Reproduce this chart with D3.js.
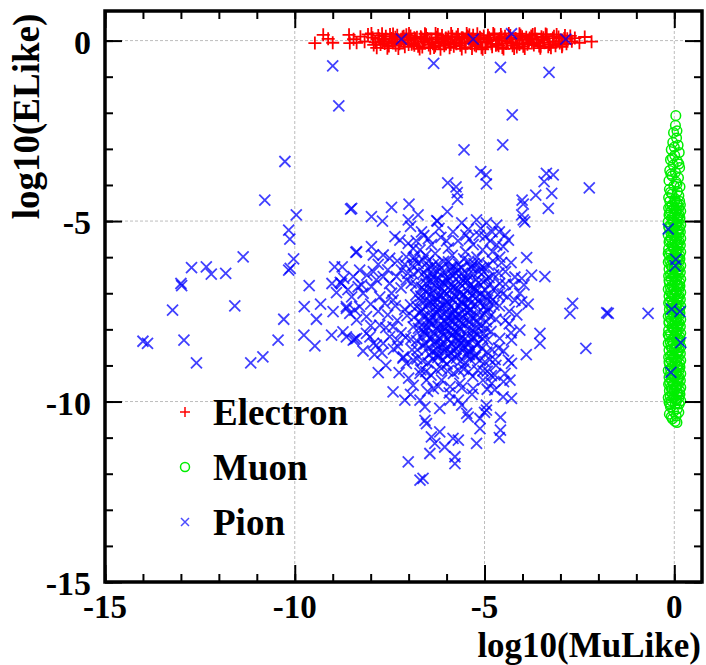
<!DOCTYPE html>
<html>
<head>
<meta charset="utf-8">
<script src="https://cdn.jsdelivr.net/npm/d3@7"></script>
<style>
  body { margin: 0; background: #fff; }
  svg text { font-family: "Liberation Serif", "Times New Roman", serif; font-weight: bold; fill: #000; }
</style>
</head>
<body>
<svg id="chart" width="706" height="665"></svg>
<script>
// ---- data: [log10(MuLike), log10(ELike)] ----
const electronPts = [
  [-9.47,-0.07],[-9.25,0.16],[-9.0,-0.06],[-9.12,0.05],[-8.57,0.16],[-8.55,-0.07],[-8.37,-0.06],[-8.27,0.11],[-8.07,0.17],[-8.16,-0.03],[-8.45,0.04],
  [-2.62,0.07],[-2.36,0.1],[-2.18,-0.03],[-2.5,-0.06],[-2.74,0.13],[-2.95,-0.12],
  [-7.95,0.08],[-7.88,-0.05],[-7.8,0.14],[-7.74,-0.11],[-7.66,0.03],[-7.6,0.12],[-7.52,-0.15],[-7.45,0.06],[-7.38,-0.02],[-7.3,0.15],
  [-7.24,-0.09],[-7.16,0.1],[-7.1,-0.17],[-7.02,0.01],[-6.95,0.13],[-6.88,-0.07],[-6.82,0.05],[-6.75,-0.16],[-6.68,0.11],[-6.6,-0.03],
  [-6.54,0.16],[-6.47,-0.12],[-6.4,0.04],[-6.33,-0.19],[-6.26,0.09],[-6.2,-0.06],[-6.12,0.14],[-6.06,-0.14],[-5.98,0.02],[-5.92,-0.2],
  [-5.85,0.12],[-5.78,-0.04],[-5.7,0.17],[-5.64,-0.13],[-5.57,0.07],[-5.5,-0.18],[-5.43,0.1],[-5.36,-0.08],[-5.3,0.15],[-5.22,-0.15],
  [-5.16,0.03],[-5.08,-0.2],[-5.02,0.13],[-4.95,-0.05],[-4.88,0.08],[-4.8,-0.17],[-4.74,0.16],[-4.67,-0.1],[-4.6,0.05],[-4.53,-0.19],
  [-4.46,0.12],[-4.4,-0.02],[-4.32,0.14],[-4.26,-0.14],[-4.18,0.06],[-4.12,-0.07],[-4.05,0.15],[-3.98,-0.16],[-3.9,0.09],[-3.84,-0.04],
  [-3.77,0.13],[-3.7,-0.12],[-3.63,0.04],[-3.56,-0.15],[-3.5,0.11],[-3.42,-0.06],[-3.36,0.16],[-3.28,-0.11],[-3.2,0.07],[-3.13,-0.14],
  [-3.05,0.1],[-2.98,-0.03],[-2.9,0.06],[-2.84,-0.09],
  [-7.92,-0.12],[-7.77,0.05],[-7.63,-0.08],[-7.49,0.17],[-7.34,-0.13],[-7.2,0.04],[-7.06,0.16],[-6.92,-0.1],[-6.78,0.09],[-6.64,-0.18],
  [-6.5,0.06],[-6.36,-0.09],[-6.23,0.17],[-6.09,-0.02],[-5.95,0.1],[-5.81,-0.16],[-5.67,0.04],[-5.53,-0.07],[-5.4,0.16],[-5.26,-0.12],
  [-5.12,0.09],[-4.98,-0.19],[-4.84,0.02],[-4.7,-0.13],[-4.57,0.17],[-4.43,-0.08],[-4.29,0.03],[-4.15,-0.18],[-4.01,0.11],[-3.87,-0.1],
  [-3.73,0.17],[-3.59,-0.05],[-3.46,0.02],[-3.32,-0.17],[-3.17,0.12],[-3.02,-0.07],[-2.88,0.14],
  [-7.42,-0.04],[-7.13,0.12],[-6.85,-0.13],[-6.57,0.02],[-6.3,-0.15],[-6.02,0.07],[-5.74,-0.09],[-5.46,0.13],[-5.19,-0.05],[-4.91,0.15],
  [-4.63,-0.14],[-4.35,0.08],[-4.08,-0.11],[-3.8,0.03],[-3.52,-0.16],
  [-7.98,0.2],[-7.84,-0.2],[-7.7,0.19],[-7.56,-0.21],[-7.41,0.18],[-7.27,-0.22],[-7.13,-0.04],[-6.99,0.2],[-6.85,0.08],[-6.71,-0.23],
  [-6.57,0.19],[-6.43,-0.21],[-6.29,0.2],[-6.16,-0.24],[-6.02,-0.09],[-5.88,0.2],[-5.74,0.1],[-5.6,-0.23],[-5.47,0.2],[-5.33,-0.22],
  [-5.19,0.19],[-5.05,-0.24],[-4.91,-0.02],[-4.77,0.2],[-4.64,0.01],[-4.5,-0.23],[-4.36,0.2],[-4.22,-0.22],[-4.08,0.19],[-3.94,-0.22],
  [-3.81,0.07],[-3.67,0.19],[-3.53,-0.21],[-3.39,0.18],[-3.25,-0.2],[-3.1,0.17],[-2.96,-0.17],[-2.82,0.05],[-2.7,-0.02],
  [-7.7,-0.02],[-7.35,0.09],[-7.0,-0.11],[-6.66,0.07],[-6.45,-0.05],[-6.14,0.03],[-5.89,-0.11],[-5.6,0.08],[-5.35,-0.02],[-5.1,0.06],
  [-4.82,-0.09],[-4.55,0.1],[-4.3,-0.04],[-4.0,0.02],[-3.75,-0.07],[-3.45,0.08],[-3.2,-0.03]
];

const muonPts = [
  [0.04,-2.08],[0.03,-2.35],[-0.02,-2.55],[0.06,-2.7],[-0.04,-2.82],[0.1,-2.9],[-0.08,-3.02],[0.13,-3.1],[0.01,-3.18],[-0.1,-3.3],
  [0.08,-3.35],[-0.03,-3.45],[0.14,-3.52],[-0.12,-3.6],[0.03,-3.65],[-0.06,-3.75],[0.11,-3.8],[-0.14,-3.88],[0.05,-3.92],[-0.01,-4.02],
  [0.15,-4.05],[-0.13,-4.12],[0.08,-4.18],[-0.06,-4.25],[0.12,-4.3],[-0.15,-4.35],[0.02,-4.38],
  [0.07,-2.5],[0.0,-2.95],[-0.05,-3.25],[0.12,-3.42],[-0.09,-3.7],[0.07,-3.98],[-0.1,-4.2],
  [-0.12,-4.45],[0.02,-4.45],[0.14,-4.45],[-0.06,-4.55],[0.09,-4.55],[0.16,-4.55],[-0.15,-4.64],[-0.01,-4.64],[0.12,-4.64],
  [-0.09,-4.73],[0.05,-4.73],[0.17,-4.73],[-0.14,-4.83],[0.01,-4.83],[0.13,-4.83],[-0.07,-4.92],[0.08,-4.92],[0.15,-4.92],
  [-0.16,-5.02],[-0.03,-5.02],[0.11,-5.02],[-0.1,-5.11],[0.04,-5.11],[0.17,-5.11],[-0.13,-5.2],[0.0,-5.2],[0.14,-5.2],
  [-0.05,-5.3],[0.09,-5.3],[0.16,-5.3],[-0.16,-5.39],[-0.02,-5.39],[0.12,-5.39],[-0.08,-5.48],[0.06,-5.48],[0.17,-5.48],
  [-0.14,-5.58],[0.02,-5.58],[0.13,-5.58],[-0.06,-5.67],[0.08,-5.67],[0.16,-5.67],[-0.15,-5.77],[-0.01,-5.77],[0.11,-5.77],
  [-0.1,-5.86],[0.05,-5.86],[0.17,-5.86],[-0.13,-5.95],[0.01,-5.95],[0.14,-5.95],[-0.07,-6.05],[0.09,-6.05],[0.15,-6.05],
  [-0.16,-6.14],[-0.03,-6.14],[0.12,-6.14],[-0.09,-6.23],[0.04,-6.23],[0.17,-6.23],[-0.14,-6.33],[0.0,-6.33],[0.13,-6.33],
  [-0.05,-6.42],[0.08,-6.42],[0.16,-6.42],[-0.15,-6.52],[-0.02,-6.52],[0.11,-6.52],[-0.08,-6.61],[0.06,-6.61],[0.17,-6.61],
  [-0.13,-6.7],[0.02,-6.7],[0.14,-6.7],[-0.06,-6.8],[0.1,-6.8],[0.15,-6.8],[-0.16,-6.89],[-0.01,-6.89],[0.12,-6.89],
  [-0.1,-6.98],[0.05,-6.98],[0.17,-6.98],[-0.14,-7.08],[0.01,-7.08],[0.13,-7.08],[-0.07,-7.17],[0.08,-7.17],[0.16,-7.17],
  [-0.15,-7.27],[-0.03,-7.27],[0.11,-7.27],[-0.09,-7.36],[0.04,-7.36],[0.17,-7.36],[-0.13,-7.45],[0.0,-7.45],[0.14,-7.45],
  [-0.05,-7.55],[0.09,-7.55],[0.15,-7.55],[-0.16,-7.64],[-0.02,-7.64],[0.12,-7.64],[-0.08,-7.73],[0.06,-7.73],[0.17,-7.73],
  [-0.14,-7.83],[0.02,-7.83],[0.13,-7.83],[-0.06,-7.92],[0.08,-7.92],[0.16,-7.92],[-0.15,-8.02],[-0.01,-8.02],[0.11,-8.02],
  [-0.1,-8.11],[0.05,-8.11],[0.17,-8.11],[-0.13,-8.2],[0.01,-8.2],[0.14,-8.2],[-0.07,-8.3],[0.09,-8.3],[0.15,-8.3],
  [-0.16,-8.39],[-0.03,-8.39],[0.12,-8.39],[-0.09,-8.48],[0.04,-8.48],[0.17,-8.48],[-0.14,-8.58],[0.0,-8.58],[0.13,-8.58],
  [-0.05,-8.67],[0.08,-8.67],[0.16,-8.67],[-0.15,-8.77],[-0.02,-8.77],[0.11,-8.77],[-0.08,-8.86],[0.06,-8.86],[0.17,-8.86],
  [-0.13,-8.95],[0.02,-8.95],[0.14,-8.95],[-0.06,-9.05],[0.1,-9.05],[0.15,-9.05],[-0.16,-9.14],[-0.01,-9.14],[0.12,-9.14],
  [-0.1,-9.23],[0.05,-9.23],[0.17,-9.23],[-0.14,-9.33],[0.01,-9.33],[0.13,-9.33],[-0.07,-9.42],[0.08,-9.42],[0.16,-9.42],
  [-0.15,-9.52],[-0.03,-9.52],[0.11,-9.52],[-0.09,-9.61],[0.04,-9.61],[0.17,-9.61],[-0.13,-9.7],[0.0,-9.7],[0.14,-9.7],
  [-0.05,-9.8],[0.09,-9.8],[0.15,-9.8],[-0.16,-9.89],[-0.02,-9.89],[0.12,-9.89],[-0.08,-9.98],[0.06,-9.98],[0.17,-9.98],
  [-0.12,-10.07],[0.03,-10.07],[0.13,-10.07],
  [0.07,-4.5],[-0.1,-4.6],[0.04,-4.69],[-0.12,-4.78],[0.1,-4.88],[-0.04,-4.97],[0.07,-5.06],[-0.15,-5.16],[0.11,-5.25],[-0.09,-5.34],
  [0.03,-5.44],[-0.12,-5.53],[0.09,-5.62],[-0.03,-5.72],[0.06,-5.81],[-0.16,-5.9],[0.1,-6.0],[-0.12,-6.09],[0.05,-6.19],[-0.06,-6.28],
  [0.09,-6.37],[-0.1,-6.47],[0.03,-6.56],[-0.14,-6.65],[0.08,-6.75],[-0.1,-6.84],[0.05,-6.94],[-0.05,-7.03],[0.1,-7.12],[-0.12,-7.22],
  [0.06,-7.31],[-0.06,-7.41],[0.08,-7.5],[-0.11,-7.59],[0.04,-7.69],[-0.14,-7.78],[0.09,-7.87],[-0.04,-7.97],[0.06,-8.06],[-0.16,-8.15],
  [0.1,-8.25],[-0.11,-8.34],[0.05,-8.44],[-0.06,-8.53],[0.09,-8.62],[-0.1,-8.72],[0.03,-8.81],[-0.14,-8.9],[0.08,-9.0],[-0.1,-9.09],
  [0.05,-9.19],[-0.05,-9.28],[0.1,-9.37],[-0.12,-9.47],[0.06,-9.56],[-0.06,-9.66],[0.08,-9.75],[-0.11,-9.84],[0.04,-9.94],[-0.14,-10.02],
  [-0.1,-10.15],[0.08,-10.2],[-0.02,-10.28],[0.12,-10.3],[-0.13,-10.35],[0.05,-10.4],[-0.08,-10.42],[-0.05,-10.48],[0.02,-10.55],[0.07,-10.58]
];

const pionPts = [
  // far left / scattered
  [-10.26,-3.35],[-10.79,-4.42],[-9.96,-4.83],[-8.53,-4.67],[-10.16,-5.25],[-10.13,-5.5],[-10.03,-6.05],[-10.16,-6.36],[-10.12,-6.31],
  [-11.36,-5.99],[-12.72,-6.29],[-12.33,-6.27],[-12.2,-6.47],[-11.82,-6.45],[-13.0,-6.73],[-12.98,-6.79],[-13.22,-7.47],[-11.58,-7.35],
  [-14.0,-8.33],[-13.88,-8.39],[-12.92,-8.3],[-12.59,-8.93],[-11.16,-8.93],[-10.84,-8.76],[-10.44,-8.3],[-10.29,-7.72],[-9.62,-6.79],
  [-9.75,-7.37],[-9.32,-7.3],[-9.43,-7.72],[-9.76,-8.16],[-9.47,-8.46],[-9.02,-6.73],[-8.95,-6.27],[-8.75,-6.27],[-8.71,-6.59],
  [-8.9,-6.98],[-8.99,-7.51],[-8.64,-7.42],[-8.42,-7.47],[-9.03,-8.16],[-8.73,-8.07],[-8.42,-8.27],[-8.39,-5.87],[-8.8,-6.7],
  [-8.33,-6.82],[-8.77,-6.73],
  // near the electron band
  [-9.0,-0.7],[-8.84,-1.81],[-7.19,0.04],[-5.3,0.04],[-4.29,0.19],[-2.86,0.04],[-6.34,-0.63],[-4.58,-0.74],[-3.3,-0.88],
  // upper middle
  [-4.27,-2.06],[-4.52,-2.89],[-5.54,-3.03],[-5.1,-3.63],[-4.96,-3.72],[-4.95,-3.97],[-5.97,-3.94],[-5.75,-4.05],[-5.72,-4.21],
  [-5.71,-4.4],[-3.37,-3.68],[-3.19,-3.72],[-3.43,-3.91],[-3.65,-4.28],[-3.23,-4.23],[-3.32,-4.65],[-2.24,-4.08],[-4.01,-4.42],
  [-3.98,-4.53],[-5.98,-4.74],[-6.24,-5.0],[-6.99,-4.53],[-7.45,-4.62],[-7.98,-4.88],[-7.69,-5.0],[-8.5,-4.65],[-3.98,-4.97],
  [-6.75,-4.83],[-7.01,-4.97],[-6.26,-4.99],[-4.02,-4.83],[-3.94,-5.02],[-5.83,-5.3],[-5.43,-5.23],[-5.49,-5.39],[-5.21,-4.97],
  [-5.14,-5.39],[-4.95,-5.05],[-4.99,-5.43],[-4.68,-5.11],[-4.61,-5.3],[-4.46,-5.39],[-4.37,-5.53],[-4.51,-5.71],[-4.68,-5.66],
  [-4.79,-5.85],[-3.89,-6.01],[-3.76,-6.5],[-4.02,-6.59],[-3.96,-6.77],[-3.41,-6.54],[-4.24,-6.77],[-4.07,-7.0],[-4.02,-7.24],
  [-3.54,-8.11],[-3.54,-8.39],[-4.07,-8.02],[-4.29,-8.3],[-4.15,-7.6],[-3.85,-7.3],[-4.35,-7.85],[-4.5,-8.6],[-3.9,-8.7],
  // near the muon column
  [-0.16,-5.22],[0.04,-6.06],[0.02,-6.24],[-2.68,-7.28],[-2.75,-7.56],[-1.78,-7.54],[-1.74,-7.56],[-0.69,-7.56],[-0.07,-7.44],
  [0.15,-7.51],[0.17,-8.37],[-0.09,-9.19],[-2.33,-8.53],
  // left wing of the cluster
  [-8.37,-5.85],[-7.98,-5.71],[-7.93,-5.94],[-7.67,-5.94],[-7.5,-6.03],[-7.36,-5.43],[-7.23,-5.53],[-7.01,-5.62],[-6.88,-5.76],
  [-6.7,-5.8],[-7.06,-5.99],[-6.84,-6.08],[-6.66,-5.3],[-6.48,-5.49],[-8.46,-6.54],[-8.29,-6.36],[-8.24,-6.77],[-7.93,-6.4],
  [-7.85,-6.63],[-7.98,-6.82],[-7.67,-6.54],[-7.5,-6.73],[-7.32,-6.54],[-7.19,-6.36],[-7.06,-6.63],[-7.76,-7.1],[-7.63,-7.28],
  [-7.41,-7.19],[-8.64,-7.37],[-8.55,-7.56],[-8.29,-7.37],[-8.37,-7.74],[-8.11,-7.65],[-8.64,-8.21],[-8.37,-8.25],[-8.11,-8.11],
  [-7.93,-8.39],[-7.67,-8.39],[-7.76,-7.88],[-7.41,-7.93],[-7.8,-7.5],[-7.55,-7.6],[-7.3,-7.75],[-7.2,-8.1],[-7.5,-8.2],
  [-7.9,-8.7],[-7.4,-8.55],[-7.15,-8.8],[-7.6,-9.0],[-8.46,-8.3],[-8.02,-8.21],[-7.85,-8.44],[-7.28,-8.48],[-7.14,-8.76],
  [-7.06,-8.94],[-6.88,-8.85],
  [-7.3,-6.1],[-7.55,-6.35],[-7.2,-6.85],[-7.45,-7.0],[-7.1,-7.45],[-7.35,-7.35],[-7.6,-7.95],[-7.3,-8.3],[-8.0,-7.3],[-8.2,-7.0],
  [-8.5,-7.1],[-8.0,-7.9],[-7.7,-8.65],[-7.25,-9.2],[-7.0,-9.35],[-6.95,-9.8],[-7.8,-6.2],[-8.1,-6.5],[-8.6,-6.9],[-8.2,-8.6],
  [-7.8,-9.2],[-6.85,-6.0],[-7.1,-6.2],
  // lower tail
  [-6.7,-9.22],[-6.53,-9.41],[-6.35,-9.64],[-6.13,-9.41],[-5.91,-9.59],[-5.65,-9.5],[-5.3,-9.64],[-5.04,-9.41],[-4.73,-9.27],
  [-7.41,-9.73],[-7.1,-9.96],[-6.7,-9.96],[-6.57,-10.15],[-6.18,-10.19],[-5.91,-9.96],[-5.69,-9.96],[-5.47,-10.33],[-5.43,-10.43],
  [-5.12,-10.47],[-5.12,-10.75],[-4.95,-10.1],[-4.95,-10.24],[-4.58,-10.44],[-4.58,-10.79],[-4.61,-11.0],[-5.21,-11.16],
  [-6.57,-10.52],[-6.53,-10.61],[-6.4,-10.98],[-6.18,-10.84],[-6.31,-11.16],[-6.05,-11.26],[-5.83,-11.02],[-5.69,-11.07],
  [-6.44,-11.44],[-5.78,-11.53],[-5.78,-11.72],[-7.01,-11.67],[-6.7,-12.18],[-6.62,-12.13],[-4.81,-9.5],[-4.73,-9.68],
  [-4.51,-9.87],[-4.29,-9.91],[-4.46,-9.22],[-4.33,-9.41],[-4.29,-8.94],[-4.37,-8.85],[-5.0,-10.3],[-5.6,-10.1],
  // right side of the cluster
  [-4.4,-7.1],[-4.2,-6.55],[-4.55,-6.15],[-4.3,-8.1],[-4.6,-8.25],[-4.45,-7.75],[-4.7,-9.0],[-4.5,-9.45],
  // dense core
  [-6.62,-6.08],[-6.35,-6.21],[-6.08,-6.12],[-5.82,-6.26],[-5.55,-6.05],[-5.28,-6.18],[-5.02,-6.29],[-4.78,-6.1],[-6.9,-6.24],
  [-7.02,-6.45],[-6.74,-6.38],[-6.51,-6.52],[-6.24,-6.41],[-5.96,-6.55],[-5.71,-6.36],[-5.44,-6.49],[-5.15,-6.4],[-4.88,-6.57],[-4.62,-6.44],
  [-6.93,-6.72],[-6.66,-6.84],[-6.42,-6.68],[-6.19,-6.8],[-5.98,-6.66],[-5.76,-6.88],[-5.52,-6.71],[-5.29,-6.83],[-5.03,-6.69],[-4.74,-6.86],[-4.45,-6.75],
  [-6.81,-7.05],[-6.55,-6.95],[-6.31,-7.12],[-6.1,-6.98],[-5.88,-7.15],[-5.66,-7.01],[-5.45,-7.18],[-5.21,-6.94],[-4.98,-7.08],[-4.79,-7.19],[-4.52,-7.02],
  [-6.95,-7.32],[-6.63,-7.44],[-6.4,-7.27],[-6.18,-7.41],[-5.97,-7.24],[-5.79,-7.47],[-5.58,-7.3],[-5.36,-7.45],[-5.12,-7.28],[-4.9,-7.4],[-4.61,-7.35],
  [-7.04,-7.62],[-6.72,-7.55],[-6.49,-7.71],[-6.27,-7.58],[-6.06,-7.76],[-5.85,-7.6],[-5.68,-7.74],[-5.47,-7.53],[-5.26,-7.69],[-5.01,-7.57],[-4.7,-7.72],
  [-6.88,-7.93],[-6.6,-8.05],[-6.38,-7.86],[-6.16,-8.01],[-5.95,-7.9],[-5.77,-8.07],[-5.56,-7.84],[-5.32,-8.02],[-5.09,-7.91],[-4.83,-8.06],
  [-7.08,-8.22],[-6.79,-8.31],[-6.52,-8.16],[-6.29,-8.35],[-6.07,-8.19],[-5.88,-8.38],[-5.63,-8.24],[-5.41,-8.36],[-5.18,-8.15],[-4.92,-8.29],
  [-6.91,-8.57],[-6.63,-8.45],[-6.37,-8.62],[-6.12,-8.5],[-5.9,-8.66],[-5.69,-8.48],[-5.43,-8.6],[-5.2,-8.44],[-4.94,-8.63],[-4.63,-8.52],
  [-6.78,-8.82],[-6.49,-8.93],[-6.23,-8.78],[-5.99,-8.96],[-5.74,-8.8],[-5.51,-8.92],[-5.24,-8.77],[-4.99,-8.9],[-4.72,-8.84],
  [-6.68,-9.12],[-6.41,-9.27],[-6.14,-9.08],[-5.82,-9.22],[-5.55,-9.1],[-5.31,-9.3],[-5.04,-9.15],[-4.82,-9.28],
  [-6.88,-9.55],[-6.5,-9.72],[-6.22,-9.58],[-5.93,-9.76],[-5.6,-9.62],[-5.33,-9.8],[-4.93,-9.66],
  [-6.5,-6.3],[-6.2,-6.6],[-5.9,-6.35],[-5.6,-6.6],[-5.35,-6.3],[-6.45,-6.9],[-6.15,-7.05],[-5.85,-6.85],[-5.55,-7.05],[-5.3,-6.9],
  [-6.55,-7.2],[-6.28,-7.5],[-6.0,-7.35],[-5.7,-7.6],[-5.45,-7.35],[-6.45,-7.75],[-6.2,-7.9],[-5.9,-7.75],[-5.65,-8.0],[-5.4,-7.8],
  [-6.4,-8.2],[-6.15,-8.4],[-5.85,-8.15],[-5.55,-8.45],[-5.3,-8.2],[-6.05,-8.65],[-5.75,-8.55],[-6.35,-6.55],[-6.05,-6.75],[-5.75,-6.45],
  [-5.45,-6.65],[-6.3,-7.25],[-5.95,-7.6],[-5.6,-7.25],[-6.0,-8.05],[-5.65,-8.3],[-6.6,-7.95],[-6.25,-8.7],[-5.4,-8.7],[-5.2,-7.1],
  [-6.75,-6.17],[-6.48,-6.11],[-6.22,-6.19],[-5.95,-6.13],[-5.68,-6.2],[-5.42,-6.12],[-5.15,-6.16],[-4.9,-6.22],
  [-6.87,-6.48],[-6.6,-6.43],[-6.37,-6.47],[-6.1,-6.42],[-5.84,-6.5],[-5.58,-6.44],[-5.3,-6.46],[-5.02,-6.41],[-4.76,-6.49],
  [-6.8,-6.77],[-6.54,-6.73],[-6.3,-6.79],[-6.08,-6.72],[-5.87,-6.76],[-5.64,-6.74],[-5.4,-6.78],[-5.16,-6.71],[-4.88,-6.77],[-4.6,-6.73],
  [-6.68,-7.08],[-6.43,-7.03],[-6.2,-7.07],[-5.99,-7.02],[-5.77,-7.09],[-5.56,-7.04],[-5.33,-7.06],[-5.1,-7.01],[-4.87,-7.07],[-4.65,-7.04],
  [-6.78,-7.37],[-6.51,-7.33],[-6.29,-7.38],[-6.08,-7.32],[-5.88,-7.36],[-5.68,-7.34],[-5.47,-7.39],[-5.24,-7.31],[-5.0,-7.36],[-4.75,-7.33],
  [-6.86,-7.67],[-6.6,-7.63],[-6.38,-7.66],[-6.16,-7.62],[-5.96,-7.68],[-5.76,-7.64],[-5.57,-7.66],[-5.36,-7.63],[-5.13,-7.67],[-4.85,-7.64],
  [-6.74,-7.97],[-6.49,-7.93],[-6.27,-7.98],[-6.05,-7.94],[-5.86,-7.96],[-5.66,-7.93],[-5.44,-7.97],[-5.2,-7.94],[-4.96,-7.98],
  [-6.94,-8.27],[-6.65,-8.23],[-6.41,-8.28],[-6.18,-8.24],[-5.97,-8.26],[-5.76,-8.22],[-5.52,-8.27],[-5.3,-8.23],[-5.05,-8.26],
  [-6.77,-8.57],[-6.5,-8.53],[-6.25,-8.56],[-6.01,-8.52],[-5.8,-8.58],[-5.56,-8.54],[-5.32,-8.56],[-5.07,-8.53],[-4.8,-8.57],
  [-6.63,-8.87],[-6.36,-8.83],[-6.1,-8.86],[-5.87,-8.84],[-5.63,-8.88],[-5.38,-8.83],[-5.12,-8.86],[-4.86,-8.84],
  [-6.55,-9.17],[-6.27,-9.13],[-5.97,-9.16],[-5.68,-9.14],[-5.42,-9.18],[-5.18,-9.13],[-4.93,-9.16],
  [-6.42,-6.28],[-6.15,-6.3],[-5.88,-6.27],[-5.62,-6.29],[-5.35,-6.26],[-5.1,-6.3],
  [-6.55,-6.6],[-6.28,-6.62],[-6.02,-6.58],[-5.76,-6.61],[-5.5,-6.59],[-5.22,-6.62],[-4.95,-6.6],
  [-6.6,-6.9],[-6.36,-6.92],[-6.12,-6.88],[-5.9,-6.91],[-5.68,-6.89],[-5.46,-6.92],[-5.24,-6.88],[-4.98,-6.91],
  [-6.7,-7.2],[-6.46,-7.22],[-6.24,-7.18],[-6.03,-7.21],[-5.82,-7.19],[-5.62,-7.22],[-5.4,-7.18],[-5.17,-7.21],[-4.92,-7.19],
  [-6.66,-7.5],[-6.42,-7.52],[-6.2,-7.48],[-5.99,-7.51],[-5.78,-7.49],[-5.58,-7.52],[-5.38,-7.48],[-5.15,-7.51],[-4.93,-7.49],
  [-6.7,-7.8],[-6.46,-7.82],[-6.24,-7.78],[-6.03,-7.81],[-5.83,-7.79],[-5.63,-7.82],[-5.42,-7.78],[-5.2,-7.81],[-4.95,-7.79],
  [-6.58,-8.1],[-6.34,-8.12],[-6.12,-8.08],[-5.91,-8.11],[-5.71,-8.09],[-5.5,-8.12],[-5.27,-8.08],[-5.02,-8.11],
  [-6.55,-8.4],[-6.3,-8.42],[-6.07,-8.38],[-5.86,-8.41],[-5.64,-8.39],[-5.42,-8.42],[-5.18,-8.38],
  [-6.45,-8.7],[-6.2,-8.72],[-5.96,-8.68],[-5.72,-8.71],[-5.48,-8.69],[-5.24,-8.72],
  // top edge of the cluster
  [-6.95,-5.15],[-6.6,-5.4],[-6.4,-5.65],[-6.15,-5.45],[-5.95,-5.75],[-5.7,-5.55],[-5.5,-5.85],[-5.3,-5.65],[-5.05,-5.8],[-4.85,-5.55],
  [-6.3,-5.9],[-5.85,-5.95],[-5.2,-6.0],[-6.55,-5.95],[-4.6,-6.0],[-4.3,-6.15],[-4.45,-6.4],[-4.2,-7.2],[-4.35,-7.5],
  [-6.8,-5.55],[-6.2,-5.2],[-5.6,-5.05],[-5.1,-5.2],[-4.8,-5.3],[-6.0,-5.55],[-5.4,-5.5]
];

const majorTicks = [-15, -10, -5, 0];
const majorLabels = ['-15', '-10', '-5', '0'];
const minorTicks = [-15, -14, -13, -12, -11, -10, -9, -8, -7, -6, -5, -4, -3, -2, -1, 0];
const legendNames = ['Electron', 'Muon', 'Pion'];
const xTitle = 'log10(MuLike)';
const yTitle = 'log10(ELike)';

// ---- layout ----
const plotLeft = 105, plotRight = 702, plotTop = 11, plotBottom = 582;

const x = d3.scaleLinear().domain([-15, 0.73]).range([plotLeft, plotRight]);
const y = d3.scaleLinear().domain([-15, 0.82]).range([plotBottom, plotTop]);

const svg = d3.select('#chart');

// dashed grid at the major ticks
const grid = svg.append('g')
  .attr('stroke', '#bdbdbd')
  .attr('stroke-width', 1)
  .attr('stroke-dasharray', '3,2');

grid.selectAll('.gx')
  .data(majorTicks)
  .enter()
  .append('line')
    .attr('x1', d => x(d)).attr('x2', d => x(d))
    .attr('y1', plotTop).attr('y2', plotBottom);

grid.selectAll('.gy')
  .data(majorTicks)
  .enter()
  .append('line')
    .attr('y1', d => y(d)).attr('y2', d => y(d))
    .attr('x1', plotLeft).attr('x2', plotRight);

// markers
const plusPath = s => `M${-s},0H${s}M0,${-s}V${s}`;
const crossPath = s => `M${-s},${-s}L${s},${s}M${-s},${s}L${s},${-s}`;

svg.append('g')
  .selectAll('path')
  .data(electronPts)
  .enter()
  .append('path')
    .attr('transform', d => `translate(${x(d[0])},${y(d[1])})`)
    .attr('d', plusPath(6.5))
    .attr('fill', 'none')
    .attr('stroke', '#ff0000')
    .attr('stroke-width', 1.8);

svg.append('g')
  .selectAll('circle')
  .data(muonPts)
  .enter()
  .append('circle')
    .attr('cx', d => x(d[0]))
    .attr('cy', d => y(d[1]))
    .attr('r', 4.8)
    .attr('fill', 'none')
    .attr('stroke', '#00ee00')
    .attr('stroke-width', 1.5);

svg.append('g')
  .selectAll('path')
  .data(pionPts)
  .enter()
  .append('path')
    .attr('transform', d => `translate(${x(d[0])},${y(d[1])})`)
    .attr('d', crossPath(5.5))
    .attr('fill', 'none')
    .attr('stroke', '#0000ff')
    .attr('stroke-opacity', 0.75)
    .attr('stroke-width', 1.8);

// ticks on all four sides, pointing inward
const styleAxis = g => {
  g.select('.domain').remove();
  g.selectAll('.tick line').attr('stroke', '#000').attr('stroke-width', 2);
};

const sides = [
  { axis: d3.axisBottom(x), pos: `translate(0,${plotBottom})` },
  { axis: d3.axisTop(x), pos: `translate(0,${plotTop})` },
  { axis: d3.axisLeft(y), pos: `translate(${plotLeft},0)` },
  { axis: d3.axisRight(y), pos: `translate(${plotRight},0)` }
];

sides.forEach(s => {
  svg.append('g')
    .attr('transform', s.pos)
    .call(s.axis.tickValues(minorTicks).tickSize(-8).tickFormat(''))
    .call(styleAxis);
  svg.append('g')
    .attr('transform', s.pos)
    .call(s.axis.tickValues(majorTicks).tickSize(-17).tickFormat(''))
    .call(styleAxis);
});

// frame
svg.append('rect')
  .attr('x', plotLeft).attr('y', plotTop)
  .attr('width', plotRight - plotLeft).attr('height', plotBottom - plotTop)
  .attr('fill', 'none')
  .attr('stroke', '#000')
  .attr('stroke-width', 3.5);

// tick labels
svg.append('g')
  .selectAll('text')
  .data(majorTicks)
  .enter()
  .append('text')
    .attr('x', d => x(d))
    .attr('y', 618)
    .attr('text-anchor', 'middle')
    .style('font-size', '33px')
    .text((d, i) => majorLabels[i]);

svg.append('g')
  .selectAll('text')
  .data(majorTicks)
  .enter()
  .append('text')
    .attr('x', 91)
    .attr('y', d => y(d) + 13)
    .attr('text-anchor', 'end')
    .style('font-size', '34px')
    .text((d, i) => majorLabels[i]);

// axis titles
svg.append('text')
  .attr('x', 701)
  .attr('y', 657)
  .attr('text-anchor', 'end')
  .style('font-size', '35px')
  .text(xTitle);

svg.append('text')
  .attr('transform', 'translate(39,116.5) rotate(-90)')
  .attr('text-anchor', 'middle')
  .style('font-size', '37px')
  .text(yTitle);

// legend
const legendY = d3.scalePoint().domain(legendNames).range([412, 522]);
const legend = svg.append('g');

legend.append('path')
  .attr('transform', `translate(185,${legendY('Electron')})`)
  .attr('d', plusPath(5))
  .attr('stroke', '#ff0000').attr('stroke-width', 1.5).attr('fill', 'none');
legend.append('circle')
  .attr('cx', 185).attr('cy', legendY('Muon')).attr('r', 4.5)
  .attr('stroke', '#00ee00').attr('stroke-width', 1.5).attr('fill', 'none');
legend.append('path')
  .attr('transform', `translate(185,${legendY('Pion')})`)
  .attr('d', crossPath(4))
  .attr('stroke', '#0000ff').attr('stroke-opacity', 0.7).attr('stroke-width', 1.5).attr('fill', 'none');

legend.selectAll('text')
  .data(legendNames)
  .enter()
  .append('text')
    .attr('x', 213)
    .attr('y', d => legendY(d) + 13)
    .style('font-size', '37px')
    .text(d => d);
</script>
</body>
</html>
